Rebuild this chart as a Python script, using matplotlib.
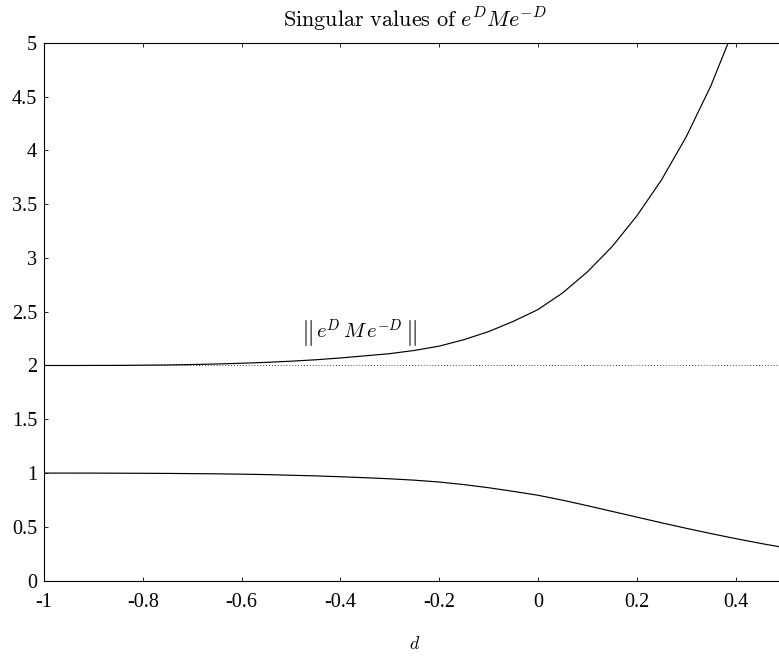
import numpy as np
import matplotlib
matplotlib.use('Agg')
import matplotlib.pyplot as plt

plt.rcParams['mathtext.fontset'] = 'cm'
plt.rcParams['font.family'] = ['Liberation Serif', 'DejaVu Serif']

# values
d = [-1.0, -0.95, -0.9, -0.85, -0.8, -0.75, -0.7, -0.65, -0.6, -0.55, -0.5,
     -0.45, -0.4, -0.35, -0.3, -0.25, -0.2, -0.15, -0.1, -0.05, 0.0,
     0.05, 0.1, 0.15, 0.2, 0.25, 0.3, 0.35, 0.4, 0.45, 0.5]
sigma_max = [2.000, 2.000, 2.0005, 2.001, 2.003, 2.005, 2.009, 2.014, 2.021, 2.029, 2.040,
             2.053, 2.070, 2.090, 2.110, 2.140, 2.180, 2.240, 2.315, 2.410, 2.520,
             2.675, 2.870, 3.105, 3.390, 3.725, 4.125, 4.600, 5.170, 5.830, 6.600]
sigma_min = [1.000, 1.000, 0.9998, 0.999, 0.998, 0.997, 0.995, 0.993, 0.990, 0.986, 0.980,
             0.974, 0.966, 0.957, 0.947, 0.934, 0.917, 0.893, 0.864, 0.830, 0.794,
             0.748, 0.697, 0.644, 0.591, 0.538, 0.487, 0.438, 0.391, 0.347, 0.306]
ref_level = 2.0

xticks = [-1, -0.8, -0.6, -0.4, -0.2, 0, 0.2, 0.4]
xticklabels = ['-1', '-0.8', '-0.6', '-0.4', '-0.2', '0', '0.2', '0.4']
yticks = [0, 0.5, 1, 1.5, 2, 2.5, 3, 3.5, 4, 4.5, 5]
yticklabels = ['0', '0.5', '1', '1.5', '2', '2.5', '3', '3.5', '4', '4.5', '5']

fig = plt.figure(figsize=(7.79, 6.58), dpi=100)
ax = fig.add_axes([0.0565, 0.1175, 0.9512, 0.8176])

ax.plot(d, sigma_max, color='black', lw=0.85)
ax.plot(d, sigma_min, color='black', lw=0.85)
ax.axhline(ref_level, color='black', lw=0.6, linestyle=(0, (1, 2.5)))

ax.set_xlim(-1, 0.5)
ax.set_ylim(0, 5)
ax.set_xticks(xticks)
ax.set_xticklabels(xticklabels)
ax.set_yticks(yticks)
ax.set_yticklabels(yticklabels)
ax.tick_params(direction='in', length=3, width=0.6, labelsize=14.5,
               top=True, right=True)
ax.tick_params(axis='x', pad=9)
ax.tick_params(axis='y', pad=5)
for s in ax.spines.values():
    s.set_linewidth(0.8)

# norm label: double bars drawn larger than the inner expression
ax.text(-0.468, 2.30, r'$\|$', fontsize=19, ha='center', va='center')
ax.text(-0.362, 2.31, r'$e^{D}\,M\,e^{-D}$', fontsize=15, ha='center', va='center')
ax.text(-0.257, 2.30, r'$\|$', fontsize=19, ha='center', va='center')

ax.set_title(r'$\mathrm{Singular\ values\ of\ }e^{D}Me^{-D}$', fontsize=16, pad=11)
ax.set_xlabel(r'$d$', fontsize=13, labelpad=17)

fig.savefig('out.png', dpi=100)
